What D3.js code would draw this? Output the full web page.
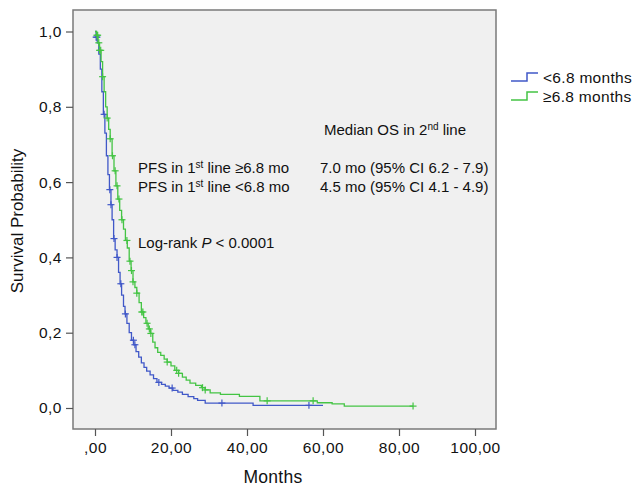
<!DOCTYPE html>
<html>
<head>
<meta charset="utf-8">
<script src="https://cdn.jsdelivr.net/npm/d3@7"></script>
<style>
  body { margin: 0; background: #fff; }
  svg { font-family: "Liberation Sans", Arial, sans-serif; }
</style>
</head>
<body>
<svg id="chart" width="632" height="486"></svg>
<script>
// Kaplan-Meier steps (months, survival)
const lowTimes = [0, 0.3, 0.6, 1.0, 1.4, 1.8, 2.2, 2.6, 3.0, 3.4, 3.8, 4.2, 4.5, 4.9, 5.3, 5.8, 6.2, 6.6, 7.0, 7.5, 7.9, 8.4, 9.0, 9.6, 10.2, 10.8, 11.5, 12.2, 12.9, 13.6, 14.5, 15.4, 16.3, 17.5, 18.5, 19.5, 20.5, 21.8, 23.0, 24.5, 26.0, 27.0, 29.0, 41.6, 60.0];
const lowSurv  = [1.0, 0.985, 0.97, 0.94, 0.90, 0.84, 0.78, 0.73, 0.67, 0.62, 0.58, 0.54, 0.50, 0.45, 0.42, 0.40, 0.36, 0.33, 0.30, 0.27, 0.25, 0.225, 0.20, 0.18, 0.168, 0.15, 0.135, 0.12, 0.108, 0.098, 0.088, 0.078, 0.068, 0.063, 0.058, 0.053, 0.047, 0.042, 0.036, 0.030, 0.025, 0.020, 0.013, 0.007, 0.007];
const lowCensor = [0.3, 0.5, 2.4, 3.9, 4.2, 5.0, 5.8, 6.8, 8.0, 10.1, 10.5, 16.8, 20.3, 33.4, 56.3];

const highTimes = [0, 0.4, 0.8, 1.2, 1.6, 2.0, 2.4, 2.8, 3.2, 3.6, 4.0, 4.5, 5.0, 5.5, 6.0, 6.5, 7.0, 7.5, 8.0, 8.5, 9.0, 9.5, 10.0, 10.5, 11.0, 11.6, 12.2, 12.8, 13.4, 14.0, 14.6, 15.2, 15.8, 16.5, 17.3, 18.2, 19.0, 20.0, 21.0, 22.0, 23.0, 24.0, 25.0, 26.5, 28.0, 29.0, 30.3, 33.0, 38.0, 43.4, 58.5, 62.4, 65.6, 83.7];
const highSurv  = [1.0, 0.99, 0.97, 0.95, 0.92, 0.88, 0.84, 0.80, 0.77, 0.74, 0.715, 0.67, 0.63, 0.59, 0.555, 0.525, 0.50, 0.475, 0.445, 0.425, 0.39, 0.365, 0.335, 0.32, 0.305, 0.28, 0.255, 0.24, 0.225, 0.21, 0.198, 0.175, 0.16, 0.148, 0.14, 0.13, 0.122, 0.112, 0.10, 0.092, 0.082, 0.074, 0.066, 0.060, 0.054, 0.048, 0.040, 0.036, 0.031, 0.019, 0.014, 0.011, 0.005, 0.005];
const highCensor = [0.5, 0.7, 1.0, 1.2, 1.5, 2.0, 3.2, 4.0, 4.6, 5.3, 5.8, 6.3, 7.1, 8.4, 9.2, 9.6, 10.0, 11.0, 12.3, 12.6, 13.7, 14.3, 14.7, 19.0, 21.5, 22.0, 28.3, 29.0, 45.3, 57.4, 83.7];

const xTicks = [0, 20, 40, 60, 80, 100];
const yTicks = [0, 0.2, 0.4, 0.6, 0.8, 1.0];
const seriesNames = ["<6.8 months", "\u22656.8 months"];
const seriesColors = ["#4058c8", "#44c444"];

const svg = d3.select("#chart");
const frame = { left: 73, top: 10, right: 496, bottom: 429 };

const x = d3.scaleLinear().domain([0, 100]).range([95, 475]);
const y = d3.scaleLinear().domain([0, 1]).range([408, 31.5]);

// plot background + border
svg.append("rect")
  .attr("x", frame.left).attr("y", frame.top)
  .attr("width", frame.right - frame.left).attr("height", frame.bottom - frame.top)
  .attr("fill", "#f0f0f0").attr("stroke", "#7a7a7a").attr("stroke-width", 1.5);

// axes
const xAxis = svg.append("g")
  .attr("transform", `translate(0,${frame.bottom})`)
  .call(d3.axisBottom(x).tickValues(xTicks).tickSize(7).tickPadding(6)
    .tickFormat(d => d === 0 ? ",00" : d.toFixed(2).replace(".", ",")));
const yAxis = svg.append("g")
  .attr("transform", `translate(${frame.left},0)`)
  .call(d3.axisLeft(y).tickValues(yTicks).tickSize(7).tickPadding(4)
    .tickFormat(d => d.toFixed(1).replace(".", ",")));
[xAxis, yAxis].forEach(g => {
  g.select(".domain").remove();
  g.selectAll(".tick line").attr("stroke", "#555").attr("stroke-width", 1.2);
  g.selectAll(".tick text").attr("fill", "#111")
    .style("font-size", "15.5px").style("letter-spacing", "0.5px");
});

svg.append("text")
  .attr("x", 273).attr("y", 483).attr("text-anchor", "middle")
  .style("font-size", "17.5px").style("letter-spacing", "0.3px").attr("fill", "#111").text("Months");
svg.append("text")
  .attr("transform", "translate(23,221) rotate(-90)").attr("text-anchor", "middle")
  .style("font-size", "17px").attr("fill", "#111").text("Survival Probability");

const line = d3.line().x(d => x(d[0])).y(d => y(d[1])).curve(d3.curveStepAfter);

function drawCurve(times, surv, censor, color) {
  const pts = times.map((t, i) => [t, surv[i]]);
  svg.append("path").datum(pts)
    .attr("fill", "none").attr("stroke", color).attr("stroke-width", 1.3)
    .attr("d", line);
  const survAt = t => {
    let s = surv[0];
    times.forEach((tt, i) => { if (tt <= t) s = surv[i]; });
    return s;
  };
  const g = svg.append("g").attr("stroke", color).attr("stroke-width", 1.2);
  censor.forEach(c => {
    const cx = x(c), cy = y(survAt(c));
    g.append("line").attr("x1", cx - 3.5).attr("x2", cx + 3.5).attr("y1", cy).attr("y2", cy);
    g.append("line").attr("x1", cx).attr("x2", cx).attr("y1", cy - 3.5).attr("y2", cy + 3.5);
  });
}
drawCurve(lowTimes, lowSurv, lowCensor, seriesColors[0]);
drawCurve(highTimes, highSurv, highCensor, seriesColors[1]);

// legend
const legend = svg.append("g");
seriesNames.forEach((name, i) => {
  const ly = 77 + i * 19;
  legend.append("path")
    .attr("d", `M511,${ly + 4}H527V${ly - 4}H538`)
    .attr("fill", "none").attr("stroke", seriesColors[i]).attr("stroke-width", 1.5);
  legend.append("text").attr("x", 543).attr("y", ly + 5.5)
    .style("font-size", "15.5px").style("letter-spacing", "0.3px").attr("fill", "#111").text(name);
});

// annotations
function supText(xp, yp, parts) {
  const t = svg.append("text").attr("x", xp).attr("y", yp)
    .style("font-size", "15px").attr("fill", "#111");
  parts.forEach(p => {
    const s = t.append("tspan").text(p[0]);
    if (p[1]) s.attr("dy", -5).style("font-size", "10px");
    else if (p[2]) s.attr("dy", 5);
  });
  return t;
}
supText(324, 135, [["Median OS in 2"], ["nd", true], [" line", false, true]]);
supText(138, 173, [["PFS in 1"], ["st", true], [" line \u22656.8 mo", false, true]]);
supText(138, 192, [["PFS in 1"], ["st", true], [" line <6.8 mo", false, true]]);
svg.append("text").attr("x", 320).attr("y", 173).style("font-size", "15px").attr("fill", "#111")
  .text("7.0 mo (95% CI 6.2 - 7.9)");
svg.append("text").attr("x", 320).attr("y", 192).style("font-size", "15px").attr("fill", "#111")
  .text("4.5 mo (95% CI 4.1 - 4.9)");
const lr = svg.append("text").attr("x", 138).attr("y", 248).style("font-size", "15px").attr("fill", "#111");
lr.append("tspan").text("Log-rank ");
lr.append("tspan").style("font-style", "italic").text("P");
lr.append("tspan").text(" < 0.0001");
</script>
</body>
</html>
